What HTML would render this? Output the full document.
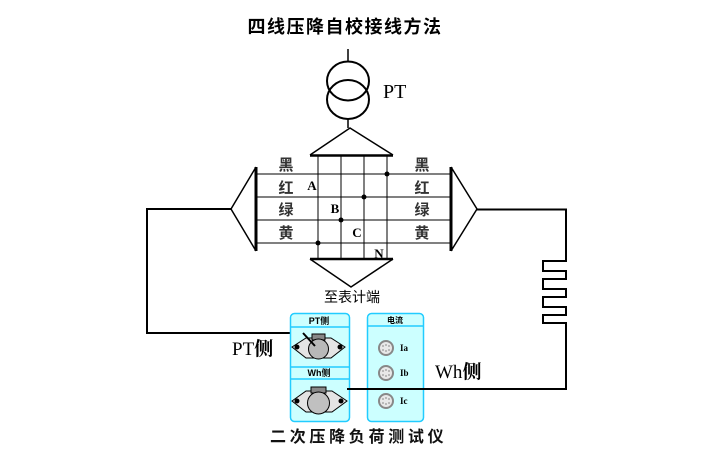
<!DOCTYPE html>
<html><head><meta charset="utf-8"><style>
html,body{margin:0;padding:0;background:#fff;}
svg{display:block;}
.cjk{font-family:"Liberation Sans","Noto Sans CJK SC",sans-serif;}
.ser{font-family:"Liberation Serif","Noto Serif CJK SC",serif;}
</style></head><body>
<svg width="702" height="458" viewBox="0 0 702 458" xmlns="http://www.w3.org/2000/svg">
<rect width="702" height="458" fill="#fff"/>
<!-- title -->
<text x="345" y="33" class="cjk" font-size="18" font-weight="bold" text-anchor="middle" letter-spacing="1.5" fill="#000">四线压降自校接线方法</text>
<!-- PT transformer -->
<line x1="348" y1="49" x2="348" y2="62" stroke="#000" stroke-width="1.5"/>
<ellipse cx="348" cy="81" rx="21" ry="19.5" fill="none" stroke="#000" stroke-width="2"/>
<ellipse cx="348" cy="99.5" rx="21" ry="19.5" fill="none" stroke="#000" stroke-width="2"/>
<line x1="348" y1="119" x2="348" y2="128" stroke="#000" stroke-width="1.5"/>
<text x="383" y="98" class="ser" font-size="20" fill="#000">PT</text>
<!-- top triangle -->
<polyline points="310,155 350,128 393,155" fill="none" stroke="#000" stroke-width="1.5"/>
<line x1="310" y1="155.5" x2="393" y2="155.5" stroke="#000" stroke-width="2.5"/>
<!-- bottom triangle -->
<line x1="310" y1="259" x2="393" y2="259" stroke="#000" stroke-width="2.5"/>
<polyline points="310,259 351,287 393,259" fill="none" stroke="#000" stroke-width="1.5"/>
<!-- grid verticals -->
<g stroke="#000" stroke-width="1">
<line x1="318" y1="155" x2="318" y2="259"/>
<line x1="341" y1="155" x2="341" y2="259"/>
<line x1="364" y1="155" x2="364" y2="259"/>
<line x1="387" y1="155" x2="387" y2="259"/>
<!-- horizontals -->
<line x1="256" y1="174" x2="451" y2="174"/>
<line x1="256" y1="197" x2="451" y2="197"/>
<line x1="256" y1="220" x2="451" y2="220"/>
<line x1="256" y1="243" x2="451" y2="243"/>
</g>
<!-- dots -->
<g fill="#000">
<circle cx="387" cy="174" r="2.5"/>
<circle cx="364" cy="197" r="2.5"/>
<circle cx="341" cy="220" r="2.5"/>
<circle cx="318" cy="243" r="2.5"/>
</g>
<!-- left bracket -->
<line x1="256" y1="167" x2="256" y2="251" stroke="#000" stroke-width="3"/>
<polyline points="256,167 231,209 256,251" fill="none" stroke="#000" stroke-width="1.5"/>
<!-- right bracket -->
<line x1="451" y1="167" x2="451" y2="251" stroke="#000" stroke-width="3"/>
<polyline points="451,167 477,209 451,251" fill="none" stroke="#000" stroke-width="1.5"/>
<!-- color labels -->
<g class="cjk" font-size="15" font-weight="bold" fill="#333" text-anchor="middle">
<text x="286" y="170">黑</text>
<text x="286" y="193">红</text>
<text x="286" y="215">绿</text>
<text x="286" y="238">黄</text>
<text x="422" y="170">黑</text>
<text x="422" y="193">红</text>
<text x="422" y="215">绿</text>
<text x="422" y="238">黄</text>
</g>
<g class="ser" font-size="13" font-weight="bold" fill="#000" text-anchor="middle">
<text x="312" y="190">A</text>
<text x="335" y="213">B</text>
<text x="357" y="237">C</text>
<text x="379" y="258">N</text>
</g>
<text x="352" y="302" class="cjk" font-size="14" text-anchor="middle" fill="#000">至表计端</text>
<!-- left wire -->
<polyline points="231,209 147,209 147,333 303,333 315,346" fill="none" stroke="#000" stroke-width="2"/>
<!-- right wire with zigzag -->
<polyline points="477,209.5 566,209.5 566,261 543,261 543,271 566,271 566,279 543,279 543,289 566,289 566,297 543,297 543,307 566,307 566,315 543,315 543,323 566,323 566,389" fill="none" stroke="#000" stroke-width="2"/>
<!-- PT side panel -->
<rect x="290.5" y="313.5" width="59" height="108" rx="4" fill="#ccffff" stroke="#22ccff" stroke-width="1.5"/>
<line x1="290.5" y1="327" x2="349.5" y2="327" stroke="#22ccff" stroke-width="1.5"/>
<line x1="290.5" y1="367" x2="349.5" y2="367" stroke="#22ccff" stroke-width="1.5"/>
<line x1="290.5" y1="379" x2="349.5" y2="379" stroke="#22ccff" stroke-width="1.5"/>
<text x="319" y="324" class="cjk" font-size="9" font-weight="bold" text-anchor="middle" fill="#000">PT侧</text>
<text x="319" y="376" class="cjk" font-size="9" font-weight="bold" text-anchor="middle" fill="#000">Wh侧</text>
<!-- knob 1 -->
<polygon points="292,347 306,338 331,338 345,347 331,358 306,358" fill="#e4e4e4" stroke="#000" stroke-width="1"/>
<circle cx="297" cy="347" r="2.5" fill="#000"/>
<circle cx="340" cy="347" r="2.5" fill="#000"/>
<rect x="312" y="334" width="13" height="6" fill="#888" stroke="#000" stroke-width="1"/>
<circle cx="318.5" cy="349" r="10" fill="#b8b8b8" stroke="#000" stroke-width="1"/>
<polyline points="303,333 315,346" fill="none" stroke="#000" stroke-width="2"/>
<!-- knob 2 -->
<polygon points="292,401 306,391 332,391 347,401 332,412 306,412" fill="#e4e4e4" stroke="#000" stroke-width="1"/>
<circle cx="297" cy="401" r="2.5" fill="#000"/>
<circle cx="341" cy="401" r="2.5" fill="#000"/>
<rect x="311" y="387" width="15" height="6" fill="#888" stroke="#000" stroke-width="1"/>
<circle cx="318.5" cy="403" r="11" fill="#c0c0c0" stroke="#000" stroke-width="1"/>
<!-- current panel -->
<rect x="367.5" y="313.5" width="56" height="108" rx="4" fill="#ccffff" stroke="#22ccff" stroke-width="1.5"/>
<line x1="367.5" y1="326" x2="423.5" y2="326" stroke="#22ccff" stroke-width="1.5"/>
<text x="395" y="323" class="cjk" font-size="8" font-weight="bold" text-anchor="middle" fill="#000">电流</text>
<g>
<circle cx="386" cy="348" r="7" fill="#e8e8e8" stroke="#888" stroke-width="2"/>
<circle cx="386" cy="373" r="7" fill="#e8e8e8" stroke="#888" stroke-width="2"/>
<circle cx="386" cy="401" r="7" fill="#e8e8e8" stroke="#888" stroke-width="2"/>
<g fill="#aaa">
<circle cx="383" cy="346" r="1"/><circle cx="386" cy="345" r="1"/><circle cx="389" cy="346" r="1"/><circle cx="383" cy="350" r="1"/><circle cx="386" cy="351" r="1"/><circle cx="389" cy="350" r="1"/>
<circle cx="383" cy="371" r="1"/><circle cx="386" cy="370" r="1"/><circle cx="389" cy="371" r="1"/><circle cx="383" cy="375" r="1"/><circle cx="386" cy="376" r="1"/><circle cx="389" cy="375" r="1"/>
<circle cx="383" cy="399" r="1"/><circle cx="386" cy="398" r="1"/><circle cx="389" cy="399" r="1"/><circle cx="383" cy="403" r="1"/><circle cx="386" cy="404" r="1"/><circle cx="389" cy="403" r="1"/>
</g>
</g>
<g class="ser" font-size="9" font-weight="bold" fill="#000">
<text x="400" y="351">Ia</text>
<text x="400" y="376">Ib</text>
<text x="400" y="404">Ic</text>
</g>
<!-- Wh wire -->
<line x1="347" y1="389" x2="567" y2="389" stroke="#000" stroke-width="2"/>
<!-- side labels -->
<text x="232" y="355" class="ser" font-size="19" fill="#000">PT<tspan font-weight="bold">侧</tspan></text>
<text x="435" y="378" class="ser" font-size="19" fill="#000">Wh<tspan font-weight="bold">侧</tspan></text>
<!-- bottom title -->
<text x="270" y="442" class="cjk" font-size="16" font-weight="bold" fill="#111" letter-spacing="3.7">二次压降负荷测试仪</text>
</svg>
</body></html>
